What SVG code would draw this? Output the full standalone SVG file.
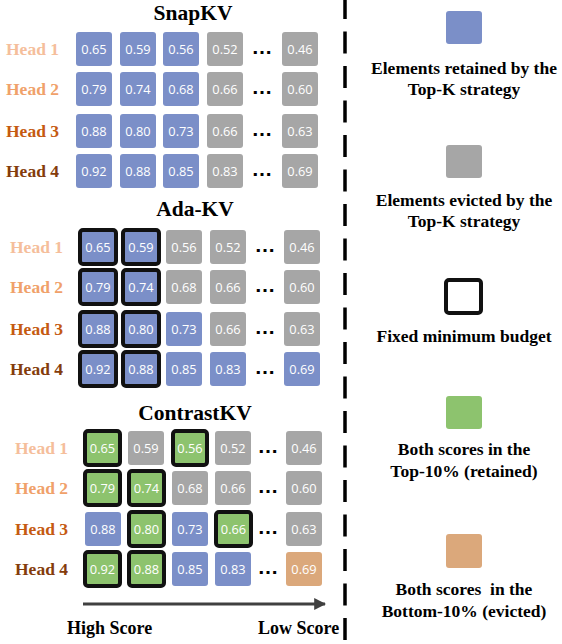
<svg xmlns="http://www.w3.org/2000/svg" width="562" height="644" viewBox="0 0 562 644">
  <defs>
    <style>
      .title { font-family: "Liberation Serif", "Times New Roman", serif; font-weight: bold; font-size: 21.5px; fill: #000; text-anchor: middle; }
      .head { font-family: "Liberation Serif", "Times New Roman", serif; font-weight: bold; font-size: 17.5px; }
      .h1 { fill: #F5BE9B; }
      .h2 { fill: #F0A16A; }
      .h3 { fill: #C55A11; }
      .h4 { fill: #843C0C; }
      .val { font-family: "Open Sans", "Liberation Sans", sans-serif; font-size: 12.8px; fill: #fff; text-anchor: middle; }
      .dots { font-family: "Liberation Sans", Arial, sans-serif; font-weight: bold; font-size: 21px; fill: #000; text-anchor: middle; }
      .keep { fill: #7B8FC8; }
      .drop { fill: #A6A6A6; }
      .both { fill: #8DC36E; }
      .low { fill: #DBA87B; }
      .fixed { stroke: #111; stroke-width: 4; }
      .legend { font-family: "Liberation Serif", "Times New Roman", serif; font-weight: bold; font-size: 17.5px; fill: #000; text-anchor: middle; }
      .axis { font-family: "Liberation Serif", "Times New Roman", serif; font-weight: bold; font-size: 18px; fill: #000; }
    </style>
    <marker id="arrowhead" viewBox="0 0 10 10" refX="9" refY="5" markerWidth="4" markerHeight="4" orient="auto" markerUnits="strokeWidth">
      <path d="M0,0 L10,5 L0,10 Z" fill="#404040"/>
    </marker>
  </defs>

  <rect width="562" height="644" fill="#fff"/>

  <!-- SnapKV -->
  <g id="snapkv">
    <text class="title" x="193" y="20">SnapKV</text>
    <text class="head h1" x="6" y="55">Head 1</text>
    <text class="head h2" x="6" y="95">Head 2</text>
    <text class="head h3" x="6" y="137">Head 3</text>
    <text class="head h4" x="6" y="177">Head 4</text>
    <g id="snap-r1">
      <rect class="keep" x="76" y="32" width="36" height="34" rx="3"/><text class="val" x="94" y="53.5">0.65</text>
      <rect class="keep" x="120" y="32" width="36" height="34" rx="3"/><text class="val" x="138" y="53.5">0.59</text>
      <rect class="keep" x="163" y="32" width="36" height="34" rx="3"/><text class="val" x="181" y="53.5">0.56</text>
      <rect class="drop" x="207" y="32" width="36" height="34" rx="3"/><text class="val" x="225" y="53.5">0.52</text>
      <text class="dots" x="262" y="54">…</text>
      <rect class="drop" x="282" y="32" width="36" height="34" rx="3"/><text class="val" x="300" y="53.5">0.46</text>
    </g>
    <g id="snap-r2">
      <rect class="keep" x="76" y="72" width="36" height="34" rx="3"/><text class="val" x="94" y="93.5">0.79</text>
      <rect class="keep" x="120" y="72" width="36" height="34" rx="3"/><text class="val" x="138" y="93.5">0.74</text>
      <rect class="keep" x="163" y="72" width="36" height="34" rx="3"/><text class="val" x="181" y="93.5">0.68</text>
      <rect class="drop" x="207" y="72" width="36" height="34" rx="3"/><text class="val" x="225" y="93.5">0.66</text>
      <text class="dots" x="262" y="94">…</text>
      <rect class="drop" x="282" y="72" width="36" height="34" rx="3"/><text class="val" x="300" y="93.5">0.60</text>
    </g>
    <g id="snap-r3">
      <rect class="keep" x="76" y="114" width="36" height="34" rx="3"/><text class="val" x="94" y="135.5">0.88</text>
      <rect class="keep" x="120" y="114" width="36" height="34" rx="3"/><text class="val" x="138" y="135.5">0.80</text>
      <rect class="keep" x="163" y="114" width="36" height="34" rx="3"/><text class="val" x="181" y="135.5">0.73</text>
      <rect class="drop" x="207" y="114" width="36" height="34" rx="3"/><text class="val" x="225" y="135.5">0.66</text>
      <text class="dots" x="262" y="136">…</text>
      <rect class="drop" x="282" y="114" width="36" height="34" rx="3"/><text class="val" x="300" y="135.5">0.63</text>
    </g>
    <g id="snap-r4">
      <rect class="keep" x="76" y="154" width="36" height="34" rx="3"/><text class="val" x="94" y="175.5">0.92</text>
      <rect class="keep" x="120" y="154" width="36" height="34" rx="3"/><text class="val" x="138" y="175.5">0.88</text>
      <rect class="keep" x="163" y="154" width="36" height="34" rx="3"/><text class="val" x="181" y="175.5">0.85</text>
      <rect class="drop" x="207" y="154" width="36" height="34" rx="3"/><text class="val" x="225" y="175.5">0.83</text>
      <text class="dots" x="262" y="176">…</text>
      <rect class="drop" x="282" y="154" width="36" height="34" rx="3"/><text class="val" x="300" y="175.5">0.69</text>
    </g>
  </g>

  <!-- Ada-KV -->
  <g id="adakv">
    <text class="title" x="195" y="216">Ada-KV</text>
    <text class="head h1" x="10" y="253">Head 1</text>
    <text class="head h2" x="10" y="293">Head 2</text>
    <text class="head h3" x="10" y="335">Head 3</text>
    <text class="head h4" x="10" y="375">Head 4</text>
    <g id="ada-r1">
      <rect class="keep fixed" x="80" y="230" width="36" height="34" rx="3"/><text class="val" x="98" y="251.5">0.65</text>
      <rect class="keep fixed" x="123" y="230" width="36" height="34" rx="3"/><text class="val" x="141" y="251.5">0.59</text>
      <rect class="drop" x="166" y="230" width="36" height="34" rx="3"/><text class="val" x="184" y="251.5">0.56</text>
      <rect class="drop" x="210" y="230" width="36" height="34" rx="3"/><text class="val" x="228" y="251.5">0.52</text>
      <text class="dots" x="265" y="252">…</text>
      <rect class="drop" x="284" y="230" width="36" height="34" rx="3"/><text class="val" x="302" y="251.5">0.46</text>
    </g>
    <g id="ada-r2">
      <rect class="keep fixed" x="80" y="270" width="36" height="34" rx="3"/><text class="val" x="98" y="291.5">0.79</text>
      <rect class="keep fixed" x="123" y="270" width="36" height="34" rx="3"/><text class="val" x="141" y="291.5">0.74</text>
      <rect class="drop" x="166" y="270" width="36" height="34" rx="3"/><text class="val" x="184" y="291.5">0.68</text>
      <rect class="drop" x="210" y="270" width="36" height="34" rx="3"/><text class="val" x="228" y="291.5">0.66</text>
      <text class="dots" x="265" y="292">…</text>
      <rect class="drop" x="284" y="270" width="36" height="34" rx="3"/><text class="val" x="302" y="291.5">0.60</text>
    </g>
    <g id="ada-r3">
      <rect class="keep fixed" x="80" y="312" width="36" height="34" rx="3"/><text class="val" x="98" y="333.5">0.88</text>
      <rect class="keep fixed" x="123" y="312" width="36" height="34" rx="3"/><text class="val" x="141" y="333.5">0.80</text>
      <rect class="keep" x="166" y="312" width="36" height="34" rx="3"/><text class="val" x="184" y="333.5">0.73</text>
      <rect class="drop" x="210" y="312" width="36" height="34" rx="3"/><text class="val" x="228" y="333.5">0.66</text>
      <text class="dots" x="265" y="334">…</text>
      <rect class="drop" x="284" y="312" width="36" height="34" rx="3"/><text class="val" x="302" y="333.5">0.63</text>
    </g>
    <g id="ada-r4">
      <rect class="keep fixed" x="80" y="352" width="36" height="34" rx="3"/><text class="val" x="98" y="373.5">0.92</text>
      <rect class="keep fixed" x="123" y="352" width="36" height="34" rx="3"/><text class="val" x="141" y="373.5">0.88</text>
      <rect class="keep" x="166" y="352" width="36" height="34" rx="3"/><text class="val" x="184" y="373.5">0.85</text>
      <rect class="keep" x="210" y="352" width="36" height="34" rx="3"/><text class="val" x="228" y="373.5">0.83</text>
      <text class="dots" x="265" y="374">…</text>
      <rect class="keep" x="284" y="352" width="36" height="34" rx="3"/><text class="val" x="302" y="373.5">0.69</text>
    </g>
  </g>

  <!-- ContrastKV -->
  <g id="contrastkv">
    <text class="title" x="195" y="420">ContrastKV</text>
    <text class="head h1" x="15" y="454">Head 1</text>
    <text class="head h2" x="15" y="494">Head 2</text>
    <text class="head h3" x="15" y="535">Head 3</text>
    <text class="head h4" x="15" y="575">Head 4</text>
    <g id="ctr-r1">
      <rect class="both fixed" x="85" y="431" width="35" height="34" rx="3"/><text class="val" x="102.5" y="452.5">0.65</text>
      <rect class="drop" x="128" y="431" width="36" height="34" rx="3"/><text class="val" x="146" y="452.5">0.59</text>
      <rect class="both fixed" x="173" y="431" width="34" height="34" rx="3"/><text class="val" x="190" y="452.5">0.56</text>
      <rect class="drop" x="215" y="431" width="36" height="34" rx="3"/><text class="val" x="233" y="452.5">0.52</text>
      <text class="dots" x="268" y="453">…</text>
      <rect class="drop" x="286" y="431" width="36" height="34" rx="3"/><text class="val" x="304" y="452.5">0.46</text>
    </g>
    <g id="ctr-r2">
      <rect class="both fixed" x="85" y="471" width="35" height="34" rx="3"/><text class="val" x="102.5" y="492.5">0.79</text>
      <rect class="both fixed" x="129" y="471" width="35" height="34" rx="3"/><text class="val" x="146.5" y="492.5">0.74</text>
      <rect class="drop" x="172" y="471" width="36" height="34" rx="3"/><text class="val" x="190" y="492.5">0.68</text>
      <rect class="drop" x="215" y="471" width="36" height="34" rx="3"/><text class="val" x="233" y="492.5">0.66</text>
      <text class="dots" x="268" y="493">…</text>
      <rect class="drop" x="286" y="471" width="36" height="34" rx="3"/><text class="val" x="304" y="492.5">0.60</text>
    </g>
    <g id="ctr-r3">
      <rect class="keep" x="85" y="512" width="36" height="34" rx="3"/><text class="val" x="103" y="533.5">0.88</text>
      <rect class="both fixed" x="129" y="512" width="35" height="34" rx="3"/><text class="val" x="146.5" y="533.5">0.80</text>
      <rect class="keep" x="172" y="512" width="36" height="34" rx="3"/><text class="val" x="190" y="533.5">0.73</text>
      <rect class="both fixed" x="216" y="512" width="35" height="34" rx="3"/><text class="val" x="233.5" y="533.5">0.66</text>
      <text class="dots" x="268" y="534">…</text>
      <rect class="drop" x="286" y="512" width="36" height="34" rx="3"/><text class="val" x="304" y="533.5">0.63</text>
    </g>
    <g id="ctr-r4">
      <rect class="both fixed" x="85" y="552" width="35" height="34" rx="3"/><text class="val" x="102.5" y="573.5">0.92</text>
      <rect class="both fixed" x="129" y="552" width="35" height="34" rx="3"/><text class="val" x="146.5" y="573.5">0.88</text>
      <rect class="keep" x="172" y="552" width="36" height="34" rx="3"/><text class="val" x="190" y="573.5">0.85</text>
      <rect class="keep" x="215" y="552" width="36" height="34" rx="3"/><text class="val" x="233" y="573.5">0.83</text>
      <text class="dots" x="268" y="574">…</text>
      <rect class="low" x="286" y="552" width="36" height="34" rx="3"/><text class="val" x="304" y="573.5">0.69</text>
    </g>
  </g>

  <!-- score axis -->
  <g id="connectors">
    <line x1="83" y1="604" x2="325" y2="604" stroke="#404040" stroke-width="3" marker-end="url(#arrowhead)"/>
  </g>
  <text class="axis" x="67" y="634">High Score</text>
  <text class="axis" x="258" y="634">Low Score</text>

  <!-- divider -->
  <line x1="345" y1="0" x2="345" y2="644" stroke="#000" stroke-width="3.5" stroke-dasharray="22 12.5" stroke-dashoffset="3"/>

  <!-- legend -->
  <g id="legend">
    <g id="legend-retained">
      <rect class="keep" x="446" y="11" width="36" height="33" rx="3"/>
      <text class="legend" x="464" y="74">Elements retained by the</text>
      <text class="legend" x="464" y="95">Top-K strategy</text>
    </g>
    <g id="legend-evicted">
      <rect class="drop" x="446" y="145" width="36" height="33" rx="3"/>
      <text class="legend" x="464" y="206">Elements evicted by the</text>
      <text class="legend" x="464" y="227">Top-K strategy</text>
    </g>
    <g id="legend-fixed">
      <rect x="446" y="280" width="35" height="33" rx="3" fill="#fff" class="fixed"/>
      <text class="legend" x="464" y="342">Fixed minimum budget</text>
    </g>
    <g id="legend-top">
      <rect class="both" x="446" y="396" width="36" height="33" rx="3"/>
      <text class="legend" x="464" y="455">Both scores in the</text>
      <text class="legend" x="464" y="477">Top-10% (retained)</text>
    </g>
    <g id="legend-bottom">
      <rect class="low" x="446" y="534" width="36" height="34" rx="3"/>
      <text class="legend" x="464" y="595">Both scores&#160; in the</text>
      <text class="legend" x="464" y="617">Bottom-10% (evicted)</text>
    </g>
  </g>
</svg>
